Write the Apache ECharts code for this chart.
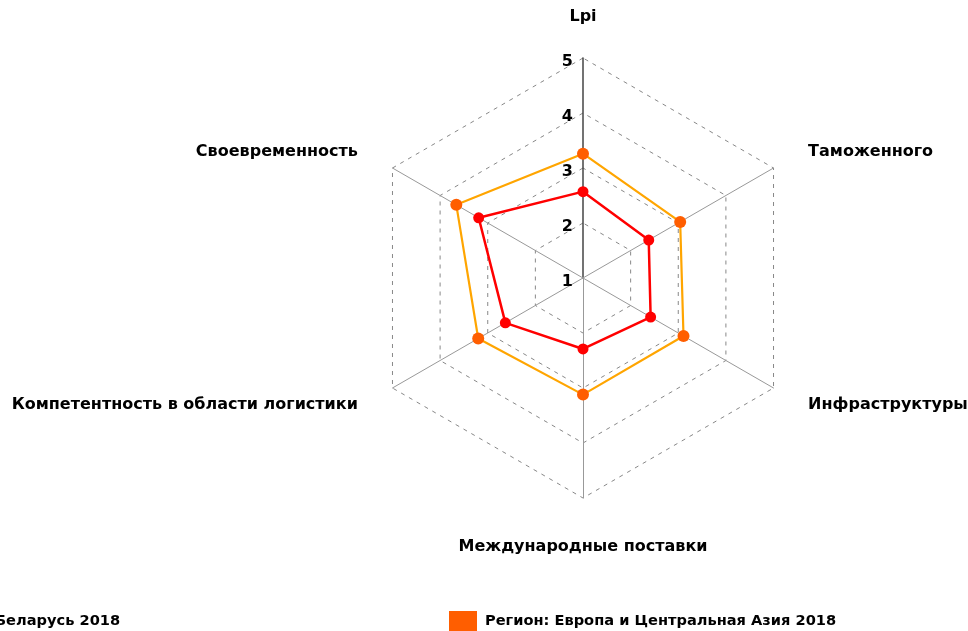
<!DOCTYPE html>
<html>
<head>
<meta charset="utf-8">
<script src="https://cdn.jsdelivr.net/npm/echarts@6/dist/echarts.min.js"></script>
<style>
  html, body { margin: 0; padding: 0; background: #fff; }
  #main { width: 968px; height: 631px; }
</style>
</head>
<body>
<div id="main"></div>
<script>
// оси радара (ECharts раскладывает против часовой, начиная сверху)
const indicators = ['Lpi', 'Своевременность', 'Компетентность в области логистики', 'Международные поставки', 'Инфраструктуры', 'Таможенного']
// значения в том же порядке
const belarus = [2.57, 3.19, 2.63, 2.29, 2.42, 2.38]
const region = [3.26, 3.66, 3.20, 3.12, 3.11, 3.04]
const seriesNames = ['Беларусь 2018', 'Регион: Европа и Центральная Азия 2018']
const scaleMin = 1
const scaleMax = 5

const myChart = echarts.init(document.getElementById('main'))

const font = 'Verdana, "DejaVu Sans", sans-serif'
const legendText = { fontFamily: font, fontWeight: 'bold', fontSize: 14.6, color: '#000', padding: [3, 0, 0, 3] }

myChart.setOption({
  backgroundColor: '#fff',
  textStyle: { fontFamily: font },
  legend: [
    {
      data: [seriesNames[0]],
      left: -46,
      top: 606,
      icon: 'rect',
      itemWidth: 28,
      itemHeight: 20,
      itemGap: 8,
      textStyle: legendText
    },
    {
      data: [seriesNames[1]],
      left: 444,
      top: 606,
      icon: 'rect',
      itemWidth: 28,
      itemHeight: 20,
      itemGap: 8,
      textStyle: legendText
    }
  ],
  radar: {
    center: [583, 278],
    radius: 220,
    startAngle: 90,
    shape: 'polygon',
    splitNumber: 4,
    nameGap: 33,
    axisName: {
      color: '#000',
      fontFamily: font,
      fontWeight: 'bold',
      fontSize: 16,
      padding: [8, 6, 0, 6]
    },
    indicator: indicators.map((n, i) => {
      const ind = { name: n, min: scaleMin, max: scaleMax }
      if (i === 0) {
        // подписи шкалы только на верхней оси
        ind.axisLabel = {
          show: true,
          color: '#000',
          fontFamily: font,
          fontWeight: 'bold',
          fontSize: 16,
          margin: 10,
          verticalAlign: 'top',
          lineHeight: 8
        }
        ind.axisLine = { lineStyle: { color: '#444', width: 1.5 } }
      }
      return ind
    }),
    axisLabel: { show: false },
    axisTick: { show: false },
    axisLine: { lineStyle: { color: '#999', width: 1 } },
    splitLine: { lineStyle: { color: '#888', type: [4, 5], width: 1 } },
    splitArea: { show: false }
  },
  series: [
    {
      type: 'radar',
      z: 3,
      symbol: 'circle',
      symbolSize: 11,
      itemStyle: { color: '#FF0000' },
      lineStyle: { color: '#FF0000', width: 2.5 },
      data: [{ name: seriesNames[0], value: belarus }]
    },
    {
      type: 'radar',
      z: 2,
      symbol: 'circle',
      symbolSize: 12,
      itemStyle: { color: '#FF5E00' },
      lineStyle: { color: '#FFA500', width: 2.2 },
      data: [{ name: seriesNames[1], value: region }]
    }
  ]
})
</script>
</body>
</html>
